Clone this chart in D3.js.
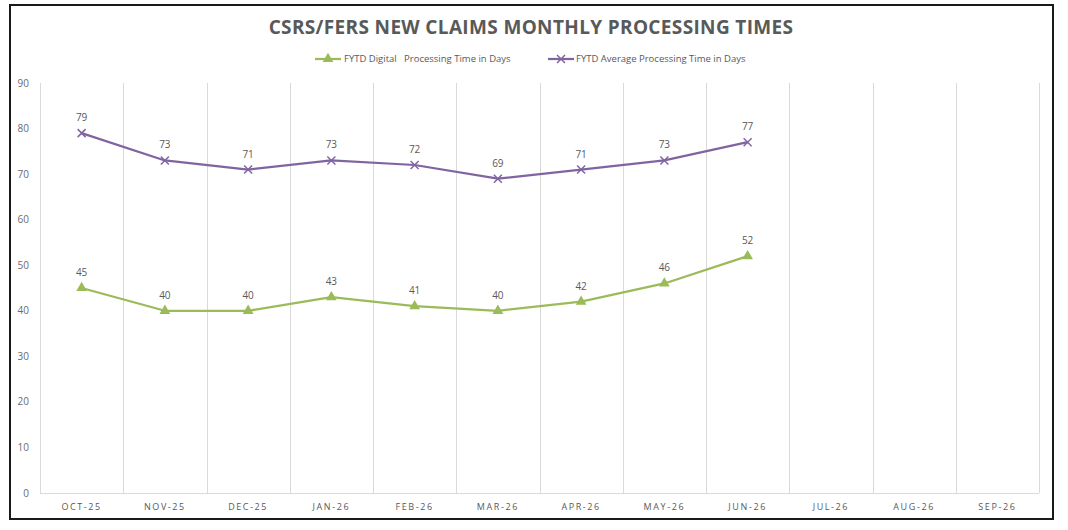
<!DOCTYPE html>
<html>
<head>
  <meta charset="utf-8">
  <title>CSRS/FERS New Claims Monthly Processing Times</title>
  <style>
   html, body { margin: 0; padding: 0; background: #fff; }
   text { font-family: "Open Sans", "Noto Sans", sans-serif; fill: #595959; }
   .grid line { stroke: #d9d9d9; stroke-width: 1px; }
  </style>
</head>
<body>
  <div id="chart"></div>
  <script src="https://d3js.org/d3.v7.min.js"></script>
  <script>
// data
var months = ["OCT-25", "NOV-25", "DEC-25", "JAN-26", "FEB-26", "MAR-26",
              "APR-26", "MAY-26", "JUN-26", "JUL-26", "AUG-26", "SEP-26"];
var digitalDays = [45, 40, 40, 43, 41, 40, 42, 46, 52];
var averageDays = [79, 73, 71, 73, 72, 69, 71, 73, 77];
var yTicks = [0, 10, 20, 30, 40, 50, 60, 70, 80, 90];

var series = [
  { name: "FYTD Digital   Processing Time in Days", values: digitalDays, color: "#9bbb59", marker: "tri" },
  { name: "FYTD Average Processing Time in Days", values: averageDays, color: "#8064a2", marker: "x" }
];

var width = 1068, height = 530;
var margin = { left: 40, right: 29, top: 83, bottom: 37 };

var svg = d3.select("#chart").append("svg")
  .attr("width", width)
  .attr("height", height);

// outer frame
svg.append("rect")
  .attr("x", 10).attr("y", 5)
  .attr("width", 1043).attr("height", 514)
  .attr("fill", "#fff")
  .attr("stroke", "#1a1a1a")
  .attr("stroke-width", 2);

var x = d3.scaleBand()
  .domain(months)
  .range([margin.left, width - margin.right]);

var y = d3.scaleLinear()
  .domain([0, 90])
  .range([height - margin.bottom, margin.top]);

// vertical gridlines at category boundaries
var bounds = months.map(function(m) { return x(m); }).concat([x.range()[1]]);
svg.append("g").attr("class", "grid")
  .selectAll("line")
  .data(bounds)
  .enter().append("line")
  .attr("x1", function(d) { return Math.round(d) + 0.5; })
  .attr("x2", function(d) { return Math.round(d) + 0.5; })
  .attr("y1", y(90))
  .attr("y2", y(0));

// bottom axis line
svg.append("line")
  .attr("x1", x.range()[0]).attr("x2", x.range()[1])
  .attr("y1", Math.round(y(0)) + 0.5).attr("y2", Math.round(y(0)) + 0.5)
  .attr("stroke", "#d9d9d9");

// y labels
svg.append("g")
  .selectAll("text")
  .data(yTicks)
  .enter().append("text")
  .attr("x", 29)
  .attr("y", function(d) { return y(d); })
  .attr("dy", "0.35em")
  .attr("text-anchor", "end")
  .style("font-size", "10px")
  .style("fill", "#6b6b6b")
  .text(function(d) { return d; });

// x labels
svg.append("g")
  .selectAll("text")
  .data(months)
  .enter().append("text")
  .attr("x", function(d) { return x(d) + x.bandwidth() / 2; })
  .attr("y", 510)
  .attr("text-anchor", "middle")
  .style("font-size", "9px")
  .style("letter-spacing", "1.6px")
  .text(function(d) { return d; });

// title
svg.append("text")
  .attr("x", 531)
  .attr("y", 34)
  .attr("text-anchor", "middle")
  .style("font-size", "19px")
  .style("font-weight", "bold")
  .style("letter-spacing", "0.35px")
  .text("CSRS/FERS NEW CLAIMS MONTHLY PROCESSING TIMES");

function drawMarker(g, type, color) {
  if (type === "tri") {
    g.append("path")
      .attr("d", d3.symbol().type(d3.symbolTriangle).size(50))
      .attr("fill", color);
  } else {
    g.append("path")
      .attr("d", "M-4,-4L4,4M-4,4L4,-4")
      .attr("stroke", color)
      .attr("stroke-width", 1.5)
      .attr("fill", "none");
  }
}

var line = d3.line()
  .x(function(d, i) { return x(months[i]) + x.bandwidth() / 2; })
  .y(function(d) { return y(d); });

series.forEach(function(s) {
  svg.append("path")
    .datum(s.values)
    .attr("d", line)
    .attr("fill", "none")
    .attr("stroke", s.color)
    .attr("stroke-width", 2.25)
    .attr("stroke-linejoin", "round");

  var pts = svg.append("g")
    .selectAll("g")
    .data(s.values)
    .enter().append("g")
    .attr("transform", function(d, i) {
      return "translate(" + (x(months[i]) + x.bandwidth() / 2) + "," + y(d) + ")";
    });
  pts.each(function() { drawMarker(d3.select(this), s.marker, s.color); });

  pts.append("text")
    .attr("y", -12)
    .attr("text-anchor", "middle")
    .style("font-size", "10px")
    .text(function(d) { return d; });
});

// legend
var legendPos = [{ x: 315, tx: 344 }, { x: 548, tx: 576 }];
series.forEach(function(s, i) {
  var lg = svg.append("g");
  var lx = legendPos[i].x;
  lg.append("line")
    .attr("x1", lx).attr("x2", lx + 26)
    .attr("y1", 59).attr("y2", 59)
    .attr("stroke", s.color)
    .attr("stroke-width", 2.25);
  var m = lg.append("g").attr("transform", "translate(" + (lx + 13) + ",59)");
  drawMarker(m, s.marker, s.color);
  lg.append("text")
    .attr("x", legendPos[i].tx)
    .attr("y", 59)
    .attr("dy", "0.35em")
    .style("font-size", "9.5px")
    .style("white-space", "pre")
    .text(s.name);
});
  </script>
</body>
</html>
